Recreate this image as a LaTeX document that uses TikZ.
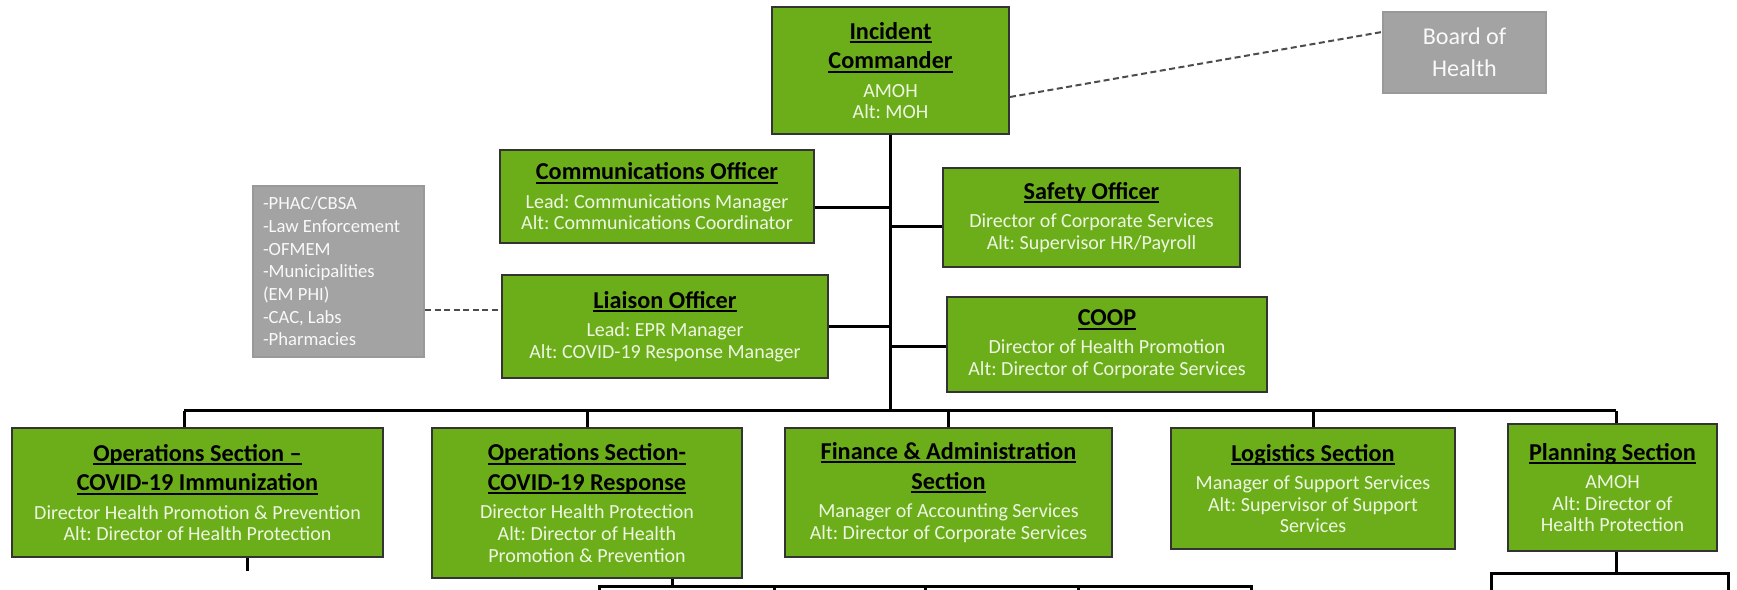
\documentclass[tikz,border=0pt]{standalone}
\usepackage{fontspec}
\setmainfont{Carlito}
\frenchspacing
\definecolor{boxgreen}{RGB}{107,174,26}
\definecolor{boxgray}{RGB}{163,163,163}
\definecolor{paletext}{RGB}{238,246,226}
\newsavebox{\ttlbox}
\newcommand{\ttl}[1]{{\fontsize{6.9}{6.2}\selectfont\bfseries\color{black}%
    \sbox{\ttlbox}{#1}\rlap{\usebox{\ttlbox}}\rule[-1.1pt]{\wd\ttlbox}{0.55pt}}}

\begin{document}
\begin{tikzpicture}[
    greenbox/.style={draw=black!80, line width=0.2mm, fill=boxgreen, text=paletext,
        align=center, inner sep=0pt, font=\fontsize{5.7}{6.2}\selectfont},
    graybox/.style={draw=black!40, line width=0.2mm, fill=boxgray, text=white!95!gray, inner sep=0pt},
    link/.style={line width=0.3mm, black},
    dashlink/.style={line width=0.2mm, black!70, dash pattern=on 0.6mm off 0.35mm},
    subbox/.style={draw, line width=0.3mm, fill=white, inner sep=0pt}
]
        \useasboundingbox (0,0) rectangle (17.37,-5.90);
        \node[greenbox, minimum width=2.37cm, minimum height=1.27cm] (ic) at (8.905,-0.705)
            {\ttl{Incident}\\[2.3pt]\ttl{Commander}\\[1.8pt]AMOH\\Alt: MOH};
        \node[graybox, minimum width=1.63cm, minimum height=0.81cm, align=center,
            font=\fontsize{6.85}{9.1}\selectfont] (board) at (14.645,-0.525) {Board of\\Health};

        \node[greenbox, minimum width=3.14cm, minimum height=0.93cm] (comm) at (6.57,-1.965)
            {\ttl{Communications Officer}\\[1.8pt]Lead: Communications Manager\\Alt: Communications Coordinator};
        \node[greenbox, minimum width=2.97cm, minimum height=0.99cm] (safety) at (10.915,-2.175)
            {\ttl{Safety Officer}\\[1.8pt]Director of Corporate Services\\Alt: Supervisor HR/Payroll};
        \node[greenbox, minimum width=3.26cm, minimum height=1.03cm] (liaison) at (6.65,-3.265)
            {\ttl{Liaison Officer}\\[1.8pt]Lead: EPR Manager\\Alt: COVID-19 Response Manager};
        \node[greenbox, minimum width=3.20cm, minimum height=0.95cm] (coop) at (11.07,-3.445)
            {\ttl{COOP}\\[1.8pt]Director of Health Promotion\\Alt: Director of Corporate Services};
        \node[graybox, minimum width=1.71cm, minimum height=1.71cm, text width=1.51cm, align=flush left,
            font=\fontsize{5.3}{6.45}\selectfont] (partners) at (3.385,-2.715)
            {-PHAC/CBSA\\-Law Enforcement\\-OFMEM\\-Municipalities\\(EM PHI)\\-CAC, Labs\\-Pharmacies};

        \node[greenbox, minimum width=3.71cm, minimum height=1.29cm] (imm) at (1.975,-4.925)
            {\ttl{Operations Section --}\\[2.3pt]\ttl{COVID-19 Immunization}\\[1.8pt]Director Health Promotion \& Prevention\\Alt: Director of Health Protection};
        \node[greenbox, minimum width=3.10cm, minimum height=1.50cm] (resp) at (5.87,-5.03)
            {\ttl{Operations Section-}\\[2.3pt]\ttl{COVID-19 Response}\\[1.8pt]Director Health Protection\\Alt: Director of Health\\Promotion \& Prevention};
        \node[greenbox, minimum width=3.27cm, minimum height=1.29cm] (fin) at (9.485,-4.925)
            {\ttl{Finance \& Administration}\\[2.3pt]\ttl{Section}\\[1.8pt]Manager of Accounting Services\\Alt: Director of Corporate Services};
        \node[greenbox, minimum width=2.84cm, minimum height=1.21cm] (log) at (13.13,-4.885)
            {\ttl{Logistics Section}\\[1.8pt]Manager of Support Services\\Alt: Supervisor of Support\\Services};
        \node[greenbox, minimum width=2.09cm, minimum height=1.27cm] (plan) at (16.125,-4.875)
            {\ttl{Planning Section}\\[1.8pt]AMOH\\Alt: Director of\\Health Protection};

        \coordinate (busl) at (1.84,-4.11);
        \coordinate (busr) at (16.16,-4.11);
        \coordinate (immstub) at (2.47,-5.71);

        \draw[link] (ic.south) -- (ic.south |- busl);
        \draw[link] (busl) -- (busr);
        \draw[link] ([yshift=-1.15mm]comm.east) -- ([yshift=-1.15mm]comm.east -| ic.south);
        \draw[link] ([yshift=-0.95mm]safety.west) -- ([yshift=-0.95mm]safety.west -| ic.south);
        \draw[link] (liaison.east) -- (liaison.east -| ic.south);
        \draw[link] ([yshift=-0.25mm]coop.west) -- ([yshift=-0.25mm]coop.west -| ic.south);
        \draw[link] (busl) -- (busl |- imm.north);
        \foreach \sec in {resp, fin, log}
            \draw[link] (\sec.north |- busl) -- (\sec.north);
        \draw[link] (busr) -- (busr |- plan.north);

        \draw[dashlink] ([yshift=-2.65mm]ic.east) -- ([yshift=2.05mm]board.west);
        \draw[dashlink, line width=0.15mm] ([yshift=-3.85mm]partners.east) -- ([yshift=-3.85mm]partners.east -| liaison.west);

        \begin{scope}
            \clip (0,0) rectangle (17.37,-5.90);
            \node[subbox, anchor=north west, minimum width=1.75cm, minimum height=1cm] (unit1) at (5.98,-5.85) {};
            \node[subbox, anchor=north west, minimum width=1.51cm, minimum height=1cm] (unit2) at (7.73,-5.85) {};
            \node[subbox, anchor=north west, minimum width=1.53cm, minimum height=1cm] (unit3) at (9.24,-5.85) {};
            \node[subbox, anchor=north west, minimum width=1.73cm, minimum height=1cm] (unit4) at (10.77,-5.85) {};
            \node[subbox, anchor=north west, minimum width=2.37cm, minimum height=1cm] (unit5) at (14.90,-5.72) {};
            \draw[link] ([xshift=0.85cm]resp.south) -- ([xshift=0.85cm]resp.south |- unit1.north);
            \draw[link] (busr |- plan.south) -- (busr |- unit5.north);
            \draw[link] (immstub |- imm.south) -- (immstub);
        \end{scope}
    \end{tikzpicture}
\end{document}
